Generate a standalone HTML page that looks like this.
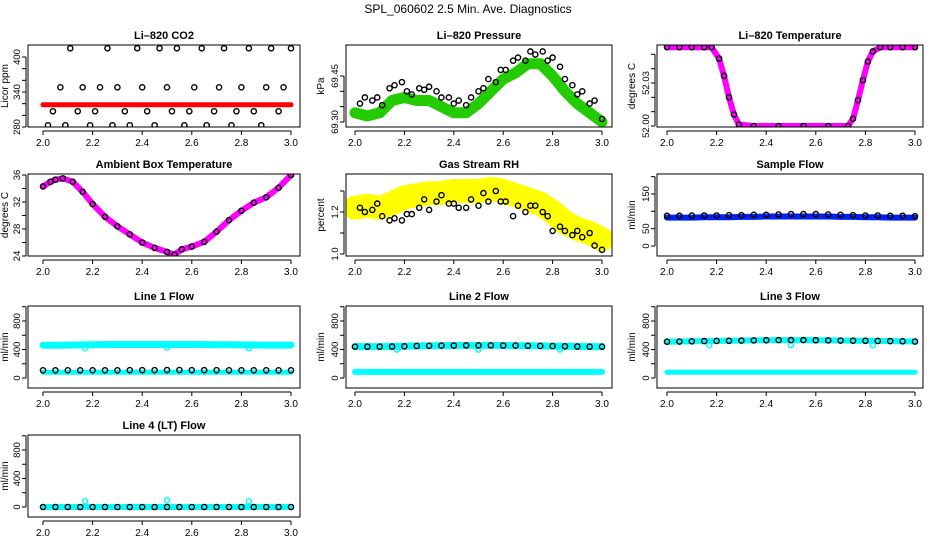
<!DOCTYPE html>
<html><head><meta charset="utf-8"><style>
body{margin:0;background:#fff;width:936px;height:540px;overflow:hidden}
svg{display:block;font-family:"Liberation Sans",Arial,sans-serif}
</style></head><body>
<svg id="chart" width="936" height="540" viewBox="0 0 936 540">
<text x="468" y="13" text-anchor="middle" font-size="12">SPL_060602  2.5 Min. Ave. Diagnostics</text>
</svg>
<script>
// shared x arrays
const xBlack = [2.02,2.04,2.07,2.09,2.11,2.14,2.16,2.19,2.21,2.23,2.26,2.28,2.30,2.33,2.35,2.38,2.40,2.42,2.45,2.47,2.50,2.52,2.54,2.57,2.59,2.61,2.64,2.66,2.69,2.71,2.73,2.76,2.78,2.80,2.83,2.85,2.88,2.90,2.92,2.95,2.97,3.00];
const xDense = [2.0,2.05,2.10,2.15,2.20,2.25,2.30,2.35,2.40,2.45,2.50,2.55,2.60,2.65,2.70,2.75,2.80,2.85,2.90,2.95,3.0];
const xTicks = [2.0,2.2,2.4,2.6,2.8,3.0];
const xTickLabels = ["2.0","2.2","2.4","2.6","2.8","3.0"];
// CO2
const co2Black = [283,307,348,283,415,307,348,283,307,348,415,283,348,307,283,415,348,307,283,415,348,307,415,283,307,348,415,283,307,348,415,283,307,348,415,307,283,348,415,307,348,415];
const co2Red = [318,318,318,318,318,318,318,318,318,318,318,318,318,318,318,318,318,318,318,318,318];
// Pressure
const presBlack = [69.36,69.38,69.37,69.38,69.355,69.41,69.42,69.43,69.40,69.39,69.41,69.405,69.415,69.40,69.38,69.38,69.36,69.37,69.355,69.38,69.40,69.41,69.44,69.43,69.47,69.47,69.50,69.51,69.50,69.53,69.52,69.53,69.50,69.51,69.48,69.44,69.42,69.39,69.40,69.36,69.37,69.31];
const presGreen = [69.33,69.32,69.33,69.37,69.38,69.37,69.37,69.35,69.33,69.33,69.36,69.40,69.44,69.46,69.49,69.49,69.45,69.40,69.36,69.33,69.30];
// Li-820 temperature
const tempX = [2.0,2.05,2.10,2.15,2.18,2.21,2.23,2.25,2.27,2.29,2.35,2.45,2.55,2.65,2.73,2.75,2.77,2.79,2.81,2.83,2.86,2.9,2.95,3.0];
const tempVals = [52.055,52.055,52.055,52.055,52.055,52.047,52.035,52.02,52.008,52.001,52.0,52.0,52.0,52.0,52.0,52.005,52.018,52.032,52.045,52.052,52.055,52.055,52.055,52.055];
// Ambient
const ambX = [2.0,2.03,2.05,2.08,2.12,2.16,2.2,2.25,2.3,2.35,2.4,2.45,2.5,2.53,2.56,2.6,2.65,2.7,2.75,2.8,2.85,2.9,2.95,3.0];
const ambVals = [34.3,35.0,35.3,35.5,35.0,33.5,31.7,29.8,28.4,27.2,26.0,25.2,24.6,24.2,25.0,25.4,26.1,27.6,29.3,30.7,31.9,32.7,34.1,36.0];
// RH
const rhYellow = [1.22,1.23,1.22,1.24,1.27,1.28,1.29,1.29,1.30,1.30,1.30,1.31,1.30,1.28,1.26,1.24,1.20,1.15,1.12,1.10,1.07];
const rhBlack = [1.22,1.20,1.21,1.24,1.18,1.16,1.17,1.16,1.19,1.19,1.22,1.26,1.21,1.25,1.28,1.24,1.24,1.22,1.22,1.26,1.23,1.29,1.25,1.30,1.25,1.25,1.18,1.23,1.20,1.23,1.23,1.20,1.18,1.11,1.13,1.11,1.09,1.11,1.08,1.10,1.04,1.02];
// Flows
const sampleBlue = [82,82,82,83,83,83,84,84,85,85,85,85,85,85,84,84,83,83,82,82,82];
const sampleBlack = [87,87,88,88,88,89,89,90,90,91,92,92,92,91,90,89,88,88,87,87,86];
const line1Cyan = [460,460,462,465,468,470,470,470,470,470,470,470,470,470,468,466,465,463,462,462,462];
const line1Low = [80,80,80,80,80,80,80,80,80,80,80,80,80,80,80,80,80,80,80,80,80];
const line1Black = [108,108,108,108,108,108,108,110,110,110,112,112,110,110,110,108,108,108,108,108,108];
const line2Black = [440,440,440,442,445,450,452,455,456,458,458,458,456,455,452,450,448,445,442,440,440];
const line2Low = [85,85,85,85,85,85,85,85,85,85,85,85,85,85,85,85,85,85,85,85,85];
const line3Black = [510,512,515,518,520,522,525,528,530,532,532,532,530,528,526,524,522,520,518,515,512];
const line3Low = [80,80,80,80,80,80,80,80,80,80,80,80,80,80,80,80,80,80,80,80,80];
const line4Vals = [0,0,0,0,0,0,0,0,0,0,0,0,0,0,0,0,0,0,0,0,0];
const outX = [2.17,2.50,2.83];
const line1Out = [420,430,420];
const line2Out = [400,400,400];
const line3Out = [460,460,460];
const line4Out = [80,95,80];

const svg = document.getElementById('chart');
const NS = 'http://www.w3.org/2000/svg';
function mk(tag, attrs, parent){const e=document.createElementNS(NS,tag);for(const k in attrs)e.setAttribute(k,attrs[k]);(parent||svg).appendChild(e);return e;}

const cols = [{l:28,r:300,x0:43,x1:291,tt:-20},{l:346,r:612,x0:355,x1:602,tt:-22},{l:657,r:923,x0:667,x1:915,tt:-22}];
const rows = [45,174,306,435];
const H = 82;

function panel(ci, ri, title, name, ylab, v1, p1, v2, p2, yticks, ylabVals, ylabStr, series){
  const c = cols[ci], top = rows[ri], bot = top + H;
  const g = mk('g', {});
  
  
  const sx = v => c.x0 + (v - 2.0) / 1.0 * (c.x1 - c.x0);
  const sy = v => top + p1 + (v - v1) / (v2 - v1) * (p2 - p1);
  const t = mk('text', {x:(c.l+c.r)/2, y:top-6, 'text-anchor':'middle', 'font-size':11, 'font-weight':'bold'}, g);
  t.textContent = title;
  
  
  const clip = 'clip' + ci + ri;
  const cp = mk('clipPath', {id:clip}, g);
  mk('rect', {x:c.l, y:top, width:c.r-c.l, height:H}, cp);
  const pg = mk('g', {'clip-path':'url(#'+clip+')'}, g);
  series.forEach(s => {
    if (s.band) {
      const pts = s.x.map((xv,i) => sx(xv).toFixed(1) + ',' + sy(s.y[i]).toFixed(1)).join(' ');
      const pl = mk('polyline', {points:pts, fill:'none', stroke:s.color, 'stroke-width':s.band, 'stroke-linejoin':'round', 'stroke-linecap':'round'}, pg);
      
      
    }
    if (s.pts) {
      s.x.forEach((xv,i) => {
        const ci2 = mk('circle', {cx:sx(xv), cy:sy(s.y[i]), r:2.6, fill:'none', stroke:s.color, 'stroke-width':1.4}, pg);
        
        
      });
    }
  });
  const box = mk('rect', {x:c.l, y:top, width:c.r-c.l, height:H, fill:'none', stroke:'#000', 'stroke-width':1}, g);
  
  
  const xa = mk('g', {}, g);
  
  
  mk('line', {x1:sx(2.0), x2:sx(3.0), y1:bot+4, y2:bot+4, stroke:'#000'}, xa);
  xTicks.forEach((v,i) => {
    mk('line', {x1:sx(v), x2:sx(v), y1:bot+4, y2:bot+8, stroke:'#000'}, xa);
    const tl = mk('text', {x:sx(v), y:bot+19, 'text-anchor':'middle', 'font-size':10}, xa);
    tl.textContent = xTickLabels[i];
    
    
  });
  const ya = mk('g', {}, g);
  
  
  const yl = c.l - 2;
  mk('line', {x1:yl, x2:yl, y1:sy(yticks[0]), y2:sy(yticks[yticks.length-1]), stroke:'#000'}, ya);
  yticks.forEach(v => {
    mk('line', {x1:yl-4, x2:yl, y1:sy(v), y2:sy(v), stroke:'#000'}, ya);
  });
  ylabVals.forEach((v,i) => {
    const tl = mk('text', {x:0, y:0, 'text-anchor':'middle', 'font-size':9.5, transform:'translate('+(c.l-8)+','+sy(v)+') rotate(-90)'}, ya);
    tl.textContent = ylabStr[i];
    
    
  });
  const ytl = mk('text', {x:0, y:0, 'text-anchor':'middle', 'font-size':10, transform:'translate('+(c.l+c.tt)+','+(top+H/2)+') rotate(-90)'}, g);
  ytl.textContent = ylab;
  
  
}

const flowTicks = [0,200,400,600,800,1000];
panel(0,0,'Li\u2013820 CO2','co2','Licor ppm',280,82,400,12,[280,300,320,340,360,380,400],[280,340,400],["280","340","400"],[
  {name:'co2-red', x:xDense, y:co2Red, color:'#ff0000', band:5},
  {name:'co2-black', x:xBlack, y:co2Black, color:'#000', pts:true}]);
panel(1,0,'Li\u2013820 Pressure','pressure','kPa',69.30,77,69.45,31,[69.30,69.35,69.40,69.45],[69.30,69.45],["69.30","69.45"],[
  {name:'pressure-green', x:xDense, y:presGreen, color:'#22cc00', band:11},
  {name:'pressure-black', x:xBlack, y:presBlack, color:'#000', pts:true}]);
panel(2,0,'Li\u2013820 Temperature','li820-temp','degrees C',52.00,81,52.03,38,[52.00,52.01,52.02,52.03,52.04,52.05],[52.00,52.03],["52.00","52.03"],[
  {name:'temp-magenta', x:tempX, y:tempVals, color:'#ff00ff', band:6},
  {name:'temp-black', x:tempX, y:tempVals, color:'#000', pts:true}]);
panel(0,1,'Ambient Box Temperature','ambient-temp','degrees C',24,82,36,1,[24,26,28,30,32,34,36],[24,28,32,36],["24","28","32","36"],[
  {name:'ambient-magenta', x:ambX, y:ambVals, color:'#ff00ff', band:6},
  {name:'ambient-black', x:ambX, y:ambVals, color:'#000', pts:true}]);
panel(1,1,'Gas Stream RH','rh','percent',1.0,80,1.2,38,[1.0,1.1,1.2,1.3],[1.0,1.2],["1.0","1.2"],[
  {name:'rh-yellow', x:xDense, y:rhYellow, color:'#ffff00', band:24},
  {name:'rh-black', x:xBlack, y:rhBlack, color:'#000', pts:true}]);
panel(2,1,'Sample Flow','sample-flow','ml/min',0,72,150,20,[0,50,100,150,200],[0,50,150],["0","50","150"],[
  {name:'sample-blue', x:xDense, y:sampleBlue, color:'#0022ee', band:6},
  {name:'sample-black', x:xDense, y:sampleBlack, color:'#000', pts:true}]);
panel(0,2,'Line 1 Flow','line1-flow','ml/min',0,72,800,15,flowTicks,[0,400,800],["0","400","800"],[
  {name:'line1-cyan', x:xDense, y:line1Cyan, color:'#00ffff', band:7},
  {name:'line1-cyan-low', x:xDense, y:line1Low, color:'#00ffff', band:5},
  {name:'line1-cyan-outlier', x:outX, y:line1Out, color:'#00ffff', pts:true},
  {name:'line1-black', x:xDense, y:line1Black, color:'#000', pts:true}]);
panel(1,2,'Line 2 Flow','line2-flow','ml/min',0,72,800,15,flowTicks,[0,400,800],["0","400","800"],[
  {name:'line2-cyan', x:xDense, y:line2Black, color:'#00ffff', band:7},
  {name:'line2-cyan-low', x:xDense, y:line2Low, color:'#00ffff', band:6},
  {name:'line2-cyan-outlier', x:outX, y:line2Out, color:'#00ffff', pts:true},
  {name:'line2-black', x:xDense, y:line2Black, color:'#000', pts:true}]);
panel(2,2,'Line 3 Flow','line3-flow','ml/min',0,72,800,15,flowTicks,[0,400,800],["0","400","800"],[
  {name:'line3-cyan', x:xDense, y:line3Black, color:'#00ffff', band:6},
  {name:'line3-cyan-low', x:xDense, y:line3Low, color:'#00ffff', band:5},
  {name:'line3-cyan-outlier', x:outX, y:line3Out, color:'#00ffff', pts:true},
  {name:'line3-black', x:xDense, y:line3Black, color:'#000', pts:true}]);
panel(0,3,'Line 4 (LT) Flow','line4-flow','ml/min',0,72,800,15,flowTicks,[0,400,800],["0","400","800"],[
  {name:'line4-cyan', x:xDense, y:line4Vals, color:'#00ffff', band:6},
  {name:'line4-cyan-outlier', x:outX, y:line4Out, color:'#00ffff', pts:true},
  {name:'line4-black', x:xDense, y:line4Vals, color:'#000', pts:true}]);
</script>
</body></html>
